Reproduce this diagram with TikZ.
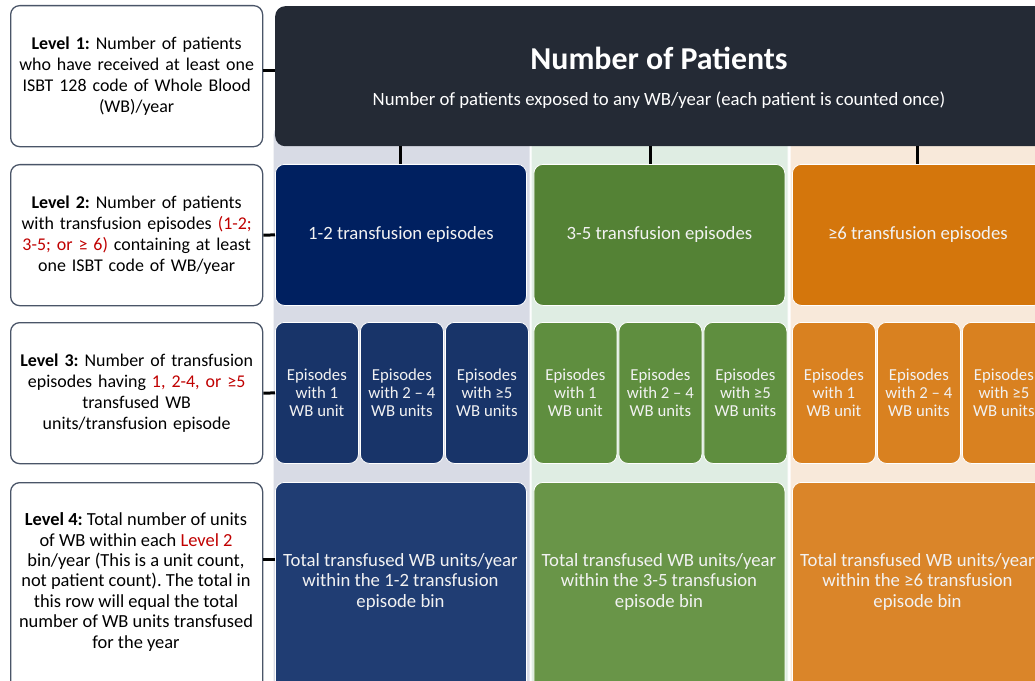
\documentclass[tikz,border=0pt]{standalone}
\usepackage{fontspec}
\setmainfont{Carlito}
\usetikzlibrary{positioning}
\frenchspacing

\definecolor{headdark}{HTML}{242A35}
\definecolor{lvledge}{HTML}{4A5568}
\definecolor{lvlred}{HTML}{C00000}
\definecolor{binwhite}{HTML}{F2F2F2}
\definecolor{navybg}{HTML}{D8DBE5}
\definecolor{greenbg}{HTML}{DFEDE3}
\definecolor{orangebg}{HTML}{F8E9DA}
\definecolor{navytwo}{HTML}{002060}
\definecolor{greentwo}{HTML}{548235}
\definecolor{orangetwo}{HTML}{D4760C}
\definecolor{navythree}{HTML}{183469}
\definecolor{greenthree}{HTML}{5F8E3F}
\definecolor{orangethree}{HTML}{D98120}
\definecolor{navyfour}{HTML}{203D73}
\definecolor{greenfour}{HTML}{699548}
\definecolor{orangefour}{HTML}{DA8529}

\begin{document}
\begin{tikzpicture}[x=1bp, y=-1bp,
   lvlbox/.style={draw=lvledge, line width=1.3bp, fill=white, rounded corners=9bp,
                  anchor=north west, minimum width=252bp, text width=248bp,
                  align=center, inner sep=0pt, font=\fontsize{18}{20.8}\selectfont},
   lvltext/.style={align=center, inner sep=0pt, font=\fontsize{18.5}{20.5}\selectfont},
   colbg/.style={draw=white, line width=1bp, rounded corners=16bp},
   binbox/.style={draw=white, line width=0.8bp, rounded corners=9bp, anchor=north west,
                  inner sep=0pt, text=binwhite, align=center,
                  font=\fontsize{18.8}{20.5}\selectfont},
   epibox/.style={binbox, minimum width=83bp, minimum height=141bp,
                  font=\fontsize{16.8}{18}\selectfont},
   bintext/.style={text=binwhite, align=center, inner sep=0pt,
                   font=\fontsize{18.8}{20.5}\selectfont},
   link/.style={line width=3bp, black}]

\clip (0,0) rectangle (1035,681);
\fill[white] (0,0) rectangle (1035,681);

% column backgrounds
\foreach \xa/\bg in {273/navybg, 531/greenbg, 790/orangebg}
   \draw[colbg, fill=\bg] (\xa,120) rectangle ++(257,620);

% level 1
\node[fill=headdark, rounded corners=10bp, anchor=north west, minimum width=770bp,
      minimum height=140bp, inner sep=0pt] (header) at (275,6) {};
\node[text=white, font=\fontsize{32}{34}\selectfont\bfseries] (title) at (659,58) {Number of Patients};
\node[text=white, font=\fontsize{18.8}{20}\selectfont] (subtitle) at (659,100)
   {Number of patients exposed to any WB/year (each patient is counted once)};

% left descriptions
\node[lvlbox, minimum height=141bp] (lvlone) at (10,5)
   {\textbf{Level 1:} Number of patients\\who have received at least one\\ISBT 128 code of Whole Blood\\(WB)/year};
\node[lvlbox, minimum height=141bp] (lvltwo) at (10,164)
   {\textbf{Level 2:} Number of patients\\with transfusion episodes \textcolor{lvlred}{(1-2;}\\\textcolor{lvlred}{3-5; or ≥ 6)} containing at least\\one ISBT code of WB/year};
\node[lvlbox, minimum height=141bp] (lvlthree) at (10,322)
   {\textbf{Level 3:} Number of transfusion\\episodes having \textcolor{lvlred}{1, 2-4, or ≥5}\\transfused WB\\units/transfusion episode};
\node[lvlbox, minimum height=240bp] (lvlfour) at (10,482) {};
\node[lvltext] (lvlfourtext) at (136,582)
   {\textbf{Level 4:} Total number of units\\of WB within each \textcolor{lvlred}{Level 2}\\bin/year (This is a unit count,\\not patient count). The total in\\this row will equal the total\\number of WB units transfused\\for the year};

% bins, one column each
\foreach \c/\xa/\ctwo/\cthree/\cfour/\bins in
   {a/275/navytwo/navythree/navyfour/1-2,
    b/533.5/greentwo/greenthree/greenfour/3-5,
    c/792/orangetwo/orangethree/orangefour/≥6} {
   \node[binbox, fill=\ctwo, minimum width=251bp, minimum height=141bp] (two\c) at (\xa,164)
      {\bins\ transfusion episodes};
   \node[epibox, fill=\cthree] (three\c one) at (\xa,322) {Episodes\\with 1\\WB unit};
   \node[epibox, fill=\cthree] (three\c two) at (\xa+85,322) {Episodes\\with 2 – 4\\WB units};
   \node[epibox, fill=\cthree] (three\c three) at (\xa+170,322) {Episodes\\with ≥5\\WB units};
   \node[binbox, fill=\cfour, minimum width=251bp, minimum height=240bp] (four\c) at (\xa,482) {};
   \node[bintext] (four\c text) at (\xa+125.5,582)
      {Total transfused WB units/year\\within the \bins\ transfusion\\episode bin};
}

% connectors
\draw[link] (twoa.north) -- (twoa.north |- header.south);
\draw[link] ([xshift=-9bp]twob.north) -- ([xshift=-9bp]twob.north |- header.south);
\draw[link] (twoc.north) -- (twoc.north |- header.south);
\draw[link] ([yshift=6bp]lvlone.east) -- ([yshift=6bp]lvlone.east -| header.west);
\draw[link] (lvltwo.east) -- (twoa.west);
\draw[link] (lvlthree.east) -- (threeaone.west);
\draw[link] ([yshift=43bp]lvlfour.east) -- ([yshift=43bp]lvlfour.east -| foura.west);

\end{tikzpicture}
\end{document}
